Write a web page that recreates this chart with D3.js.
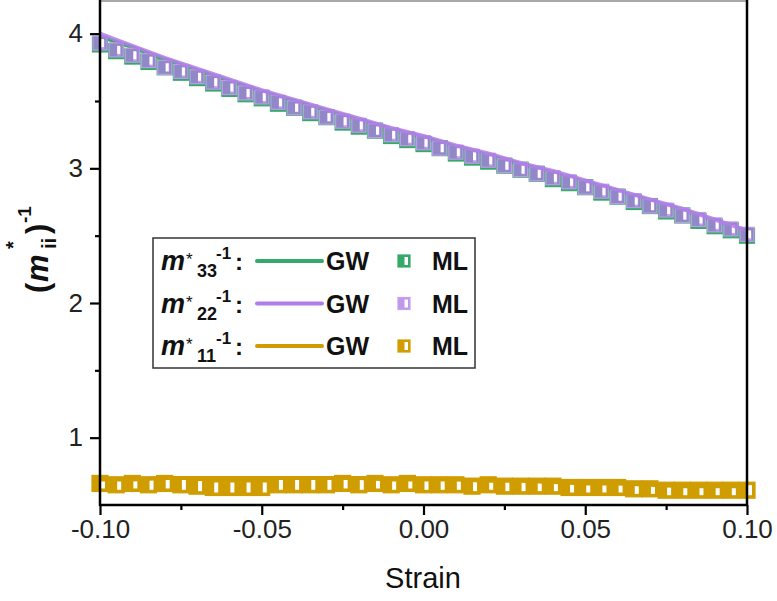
<!DOCTYPE html>
<html>
<head>
<meta charset="utf-8">
<script src="https://cdn.jsdelivr.net/npm/d3@7"></script>
<style>
  html, body { margin: 0; padding: 0; background: #fff; }
  svg { display: block; font-family: "Liberation Sans", Arial, sans-serif; }
</style>
</head>
<body>
<svg id="chart" width="777" height="601"></svg>
<script>
// Strain grid of the ML predictions and of the GW reference curves
const strainML = [-0.100,-0.095,-0.090,-0.085,-0.080,-0.075,-0.070,-0.065,-0.060,-0.055,
                  -0.050,-0.045,-0.040,-0.035,-0.030,-0.025,-0.020,-0.015,-0.010,-0.005,
                   0.000, 0.005, 0.010, 0.015, 0.020, 0.025, 0.030, 0.035, 0.040, 0.045,
                   0.050, 0.055, 0.060, 0.065, 0.070, 0.075, 0.080, 0.085, 0.090, 0.095, 0.100];
const strainGW = [-0.10,-0.09,-0.08,-0.07,-0.06,-0.05,-0.04,-0.03,-0.02,-0.01,
                   0.00, 0.01, 0.02, 0.03, 0.04, 0.05, 0.06, 0.07, 0.08, 0.09, 0.10];

// Inverse effective masses, GW
const m33GW = [3.98,3.90,3.81,3.73,3.65,3.57,3.50,3.43,3.36,3.29,3.23,3.16,3.10,3.03,2.97,2.90,2.83,2.76,2.69,2.61,2.53];
const m22GW = [4.00,3.91,3.82,3.74,3.66,3.58,3.51,3.44,3.37,3.30,3.24,3.17,3.11,3.04,2.98,2.91,2.84,2.77,2.70,2.62,2.54];
const m11GW = [0.69,0.69,0.70,0.70,0.70,0.70,0.70,0.70,0.70,0.69,0.69,0.69,0.68,0.68,0.67,0.66,0.66,0.65,0.64,0.64,0.64];

// Inverse effective masses, ML
const m33ML = [3.92,3.87,3.83,3.79,3.75,3.71,3.67,3.63,3.59,3.55,3.52,3.48,3.45,3.41,3.38,3.34,3.31,3.28,3.24,3.21,
               3.18,3.15,3.11,3.08,3.05,3.02,2.99,2.96,2.92,2.89,2.86,2.82,2.79,2.75,2.72,2.68,2.65,2.61,2.57,2.54,2.50];
const m22ML = [3.93,3.88,3.84,3.80,3.75,3.72,3.68,3.64,3.60,3.56,3.53,3.49,3.45,3.42,3.38,3.35,3.32,3.28,3.25,3.22,
               3.19,3.15,3.12,3.09,3.06,3.02,2.99,2.96,2.93,2.90,2.86,2.83,2.79,2.76,2.72,2.69,2.65,2.62,2.58,2.55,2.51];
const m11ML = [0.66,0.65,0.66,0.65,0.66,0.65,0.64,0.63,0.63,0.63,0.63,0.65,0.65,0.65,0.65,0.66,0.65,0.66,0.65,0.66,
               0.65,0.65,0.65,0.64,0.65,0.64,0.64,0.64,0.64,0.63,0.63,0.63,0.63,0.62,0.62,0.61,0.61,0.61,0.61,0.61,0.61];

const xTicks = [-0.10, -0.05, 0.00, 0.05, 0.10];
const xMinor = [-0.075, -0.025, 0.025, 0.075];
const yTicks = [1, 2, 3, 4];
const yMinor = [1.5, 2.5, 3.5];

const C = { green: "#35a96a", purple: "#b27de8", gold: "#cf9d00" };

const svg = d3.select("#chart");
const L = 100, R = 747, T = 1, B = 505;

const x = d3.scaleLinear().domain([-0.10, 0.10]).range([L, R]);
const y = d3.scaleLinear().domain([0.5, 4.25]).range([B, 0]);

const line = d3.line().x(d => x(d[0])).y(d => y(d[1]));
const zip = (xs, ys) => xs.map((v, i) => [v, ys[i]]);

const plot = svg.append("g");

// Square marker, left half filled, right half hollow
function markers(data, color, opts) {
  const s = opts.size;
  const g = plot.append("g").selectAll("g").data(data).join("g")
    .attr("transform", d => `translate(${x(d[0])},${y(d[1])})`);
  g.append("rect")
    .attr("x", -s / 2).attr("y", -s / 2).attr("width", s).attr("height", s)
    .attr("fill", color).attr("fill-opacity", opts.opacity || 1)
    .attr("stroke", opts.stroke || color).attr("stroke-width", 1.2);
  g.append("rect")
    .attr("x", 1).attr("y", -s / 2 + 3).attr("width", s / 2 - 4).attr("height", s - 6)
    .attr("fill", "#fff");
}

plot.append("path").datum(zip(strainGW, m33GW)).attr("d", line)
  .attr("fill", "none").attr("stroke", C.green).attr("stroke-width", 4);
markers(zip(strainML, m33ML), C.green, { size: 15 });
markers(zip(strainML, m22ML), C.purple, { size: 14, opacity: 0.75, stroke: "#b9a0e6" });
plot.append("path").datum(zip(strainGW, m22GW)).attr("d", line)
  .attr("fill", "none").attr("stroke", C.purple).attr("stroke-width", 4).attr("stroke-opacity", 0.85);
markers(zip(strainML, m11ML), C.gold, { size: 16 });
plot.append("path").datum(zip(strainGW, m11GW)).attr("d", line)
  .attr("fill", "none").attr("stroke", C.gold).attr("stroke-width", 4);

// Frame
svg.append("line").attr("x1", L).attr("x2", R).attr("y1", T).attr("y2", T)
  .attr("stroke", "#555").attr("stroke-width", 1.2);
svg.append("line").attr("x1", R).attr("x2", R).attr("y1", 0).attr("y2", B)
  .attr("stroke", "#000").attr("stroke-width", 2.5);

// Axes
const fmtX = d => d.toFixed(2);
const xAxis = svg.append("g").attr("transform", `translate(0,${B})`)
  .call(d3.axisBottom(x).tickValues(xTicks).tickFormat(fmtX).tickSize(10).tickSizeOuter(0));
svg.append("g").attr("transform", `translate(0,${B})`)
  .call(d3.axisBottom(x).tickValues(xMinor).tickFormat("").tickSize(5).tickSizeOuter(0))
  .select(".domain").remove();
const yAxis = svg.append("g").attr("transform", `translate(${L},0)`)
  .call(d3.axisLeft(y).tickValues(yTicks).tickFormat(d => String(d)).tickSize(10).tickSizeOuter(0));
svg.append("g").attr("transform", `translate(${L},0)`)
  .call(d3.axisLeft(y).tickValues(yMinor).tickFormat("").tickSize(5).tickSizeOuter(0))
  .select(".domain").remove();

svg.selectAll(".domain").attr("stroke", "#000").attr("stroke-width", 2.5);
svg.selectAll(".tick line").attr("stroke", "#000").attr("stroke-width", 2.2);
svg.selectAll(".tick text").attr("font-size", "26px").attr("fill", "#222")
  .attr("font-family", "'Liberation Sans', Arial, sans-serif");
xAxis.selectAll(".tick text").attr("y", 13).attr("dy", "0.75em");
yAxis.selectAll(".tick text").attr("x", -17);
yAxis.select(".domain").attr("d", `M0,0V${B + 1}`);
xAxis.select(".domain").attr("d", `M${L - 1},0H${R + 1}`);

// Axis titles
svg.append("text").attr("x", 423).attr("y", 588).attr("text-anchor", "middle")
  .attr("font-size", "29px").attr("fill", "#111").text("Strain");

const yt = svg.append("g").attr("transform", "translate(48,235) rotate(-90)")
  .attr("font-weight", "bold").attr("fill", "#111");
yt.append("text").attr("x", -58).attr("y", 0).attr("font-size", "31px").text("(");
yt.append("text").attr("x", -47).attr("y", 0).attr("font-size", "31px").attr("font-style", "italic").text("m");
yt.append("text").attr("x", -14).attr("y", -28).attr("font-size", "20px").text("*");
yt.append("text").attr("x", -14).attr("y", 8).attr("font-size", "20px").text("ii");
yt.append("text").attr("x", 1).attr("y", 0).attr("font-size", "31px").text(")");
yt.append("text").attr("x", 12).attr("y", -17).attr("font-size", "19px").text("-1");

// Legend
const legendRows = [
  { sub: "33", color: C.green, mStroke: C.green, mOpacity: 1 },
  { sub: "22", color: C.purple, mStroke: "#c2a3f0", mOpacity: 0.8 },
  { sub: "11", color: C.gold, mStroke: C.gold, mOpacity: 1 }
];
const lg = svg.append("g").attr("fill", "#111").attr("font-weight", "bold");
lg.append("rect").attr("x", 153).attr("y", 238).attr("width", 322).attr("height", 130)
  .attr("fill", "#fff").attr("stroke", "#333").attr("stroke-width", 1.5);
legendRows.forEach((r, i) => {
  const cy = 261 + i * 42.5;
  lg.append("text").attr("x", 161).attr("y", cy + 9).attr("font-size", "27px")
    .attr("font-style", "italic").text("m");
  lg.append("text").attr("x", 186).attr("y", cy + 4).attr("font-size", "17px")
    .attr("font-weight", "normal").text("*");
  lg.append("text").attr("x", 197).attr("y", cy + 16).attr("font-size", "18px").text(r.sub);
  lg.append("text").attr("x", 216).attr("y", cy - 2).attr("font-size", "17px").text("-1");
  lg.append("text").attr("x", 235).attr("y", cy + 9).attr("font-size", "24px").text(":");
  lg.append("line").attr("x1", 257).attr("x2", 322).attr("y1", cy).attr("y2", cy)
    .attr("stroke", r.color).attr("stroke-width", 4).attr("stroke-linecap", "round");
  lg.append("text").attr("x", 326).attr("y", cy + 9).attr("font-size", "25px").text("GW");
  const m = lg.append("g").attr("transform", `translate(404,${cy})`);
  m.append("rect").attr("x", -6).attr("y", -6).attr("width", 12).attr("height", 12)
    .attr("fill", r.color).attr("fill-opacity", r.mOpacity).attr("stroke", r.mStroke).attr("stroke-width", 1.2);
  m.append("rect").attr("x", 0.5).attr("y", -4).attr("width", 3.5).attr("height", 8).attr("fill", "#fff");
  lg.append("text").attr("x", 432).attr("y", cy + 9).attr("font-size", "25px").text("ML");
});
</script>
</body>
</html>
